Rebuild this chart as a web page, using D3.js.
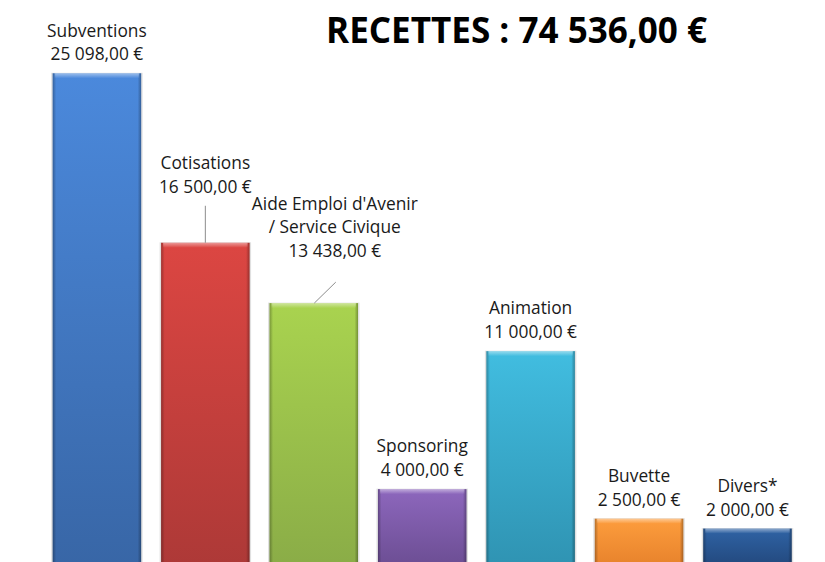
<!DOCTYPE html>
<html>
<head>
<meta charset="utf-8">
<script src="https://cdn.jsdelivr.net/npm/d3@7"></script>
<style>
html,body{margin:0;padding:0;background:#fff;}
svg{display:block;}
text{font-family:"Open Sans","Lato","Liberation Sans",sans-serif;fill:#1a1a1a;}
</style>
</head>
<body>
<svg id="chart" width="825" height="562"></svg>
<script>
const title = "RECETTES : 74 536,00 €";
const categories = ["Subventions","Cotisations","Aide Emploi d'Avenir / Service Civique","Sponsoring","Animation","Buvette","Divers*"];
const labelLines = [
  ["Subventions"],
  ["Cotisations"],
  ["Aide Emploi d'Avenir","/ Service Civique"],
  ["Sponsoring"],
  ["Animation"],
  ["Buvette"],
  ["Divers*"]
];
const values = [25098, 16500, 13438, 4000, 11000, 2500, 2000];
const topColors = ["#4b89dc","#dc4642","#a9d34f","#8d67bd","#41bde0","#fd9d3d","#2f63a5"];
const bottomColors = ["#3866a6","#ad3937","#8aac47","#6b4d92","#2f93b2","#e6812b","#22477b"];

const svg = d3.select("#chart");

const x = d3.scaleBand().domain(categories).range([42.7, 801.7]).paddingInner(0.184).paddingOuter(0.092);
const y = d3.scaleLinear().domain([0, 25098]).range([568, 73.3]);

const fmt = v => {
  const s = d3.format(",.2f")(v);
  return s.replace(/,/g, "\u00a0").replace(".", ",") + "\u00a0€";
};

const defs = svg.append("defs");
categories.forEach((c, i) => {
  const g = defs.append("linearGradient").attr("id", "g" + i).attr("x1", 0).attr("y1", 0).attr("x2", 0).attr("y2", 1);
  g.append("stop").attr("offset", "0%").attr("stop-color", topColors[i]);
  g.append("stop").attr("offset", "100%").attr("stop-color", bottomColors[i]);
});
const side = defs.append("linearGradient").attr("id", "side").attr("x1", 0).attr("y1", 0).attr("x2", 1).attr("y2", 0);
side.append("stop").attr("offset", "0%").attr("stop-color", "#000").attr("stop-opacity", 0.28);
side.append("stop").attr("offset", "4%").attr("stop-color", "#000").attr("stop-opacity", 0.0);
side.append("stop").attr("offset", "96%").attr("stop-color", "#000").attr("stop-opacity", 0.0);
side.append("stop").attr("offset", "100%").attr("stop-color", "#000").attr("stop-opacity", 0.3);
const topg = defs.append("linearGradient").attr("id", "topg").attr("x1", 0).attr("y1", 0).attr("x2", 0).attr("y2", 1);
topg.append("stop").attr("offset", "0%").attr("stop-color", "#fff").attr("stop-opacity", 0.45);
topg.append("stop").attr("offset", "100%").attr("stop-color", "#fff").attr("stop-opacity", 0.0);

svg.append("g").selectAll("rect").data(categories).join("rect")
  .attr("x", d => x(d) - 1.5)
  .attr("y", (d, i) => y(values[i]) - 0.5)
  .attr("width", x.bandwidth() + 3)
  .attr("height", (d, i) => y(0) - y(values[i]) + 1)
  .attr("fill", "#000").attr("opacity", 0.12);

const bars = svg.append("g");
bars.selectAll("rect.bar").data(categories).join("rect").attr("class", "bar")
  .attr("x", d => x(d))
  .attr("y", (d, i) => y(values[i]))
  .attr("width", x.bandwidth())
  .attr("height", (d, i) => y(0) - y(values[i]))
  .attr("fill", (d, i) => `url(#g${i})`);
bars.selectAll("rect.side").data(categories).join("rect").attr("class", "side")
  .attr("x", d => x(d))
  .attr("y", (d, i) => y(values[i]))
  .attr("width", x.bandwidth())
  .attr("height", (d, i) => y(0) - y(values[i]))
  .attr("fill", "url(#side)");
bars.selectAll("rect.top").data(categories).join("rect").attr("class", "top")
  .attr("x", d => x(d) + 2)
  .attr("y", (d, i) => y(values[i]))
  .attr("width", x.bandwidth() - 4)
  .attr("height", 5)
  .attr("fill", "url(#topg)");

const lineH = 23.8;
const labelShift = {1: {dx: 0, lift: 37}, 2: {dx: 21, lift: 33}};
const labG = svg.append("g");
const probe = labG.append("text").attr("font-size", 18).text("Aide Emploi d'Avenir");
const fontSize = 18 * 166 / probe.node().getComputedTextLength();
probe.remove();

categories.forEach((c, i) => {
  const lines = labelLines[i].concat([fmt(values[i])]);
  const sh = labelShift[i] || {dx: 0, lift: 0};
  const cx = x(c) + x.bandwidth() / 2 + sh.dx;
  const lastBase = y(values[i]) - 13 - sh.lift;
  const t = labG.append("text").attr("text-anchor", "middle").attr("font-size", fontSize);
  lines.forEach((l, k) => {
    t.append("tspan").attr("x", cx).attr("y", lastBase - (lines.length - 1 - k) * lineH).text(l);
  });
  if (labelShift[i]) {
    const bx = x(c) + x.bandwidth() / 2;
    const by = y(values[i]);
    if (i === 1) {
      labG.append("line").attr("x1", bx).attr("y1", by).attr("x2", bx).attr("y2", by - 37)
        .attr("stroke", "#8c8c8c").attr("stroke-width", 1);
    } else {
      labG.append("line").attr("x1", bx + 0.5).attr("y1", by).attr("x2", bx + 22).attr("y2", by - 21)
        .attr("stroke", "#8c8c8c").attr("stroke-width", 1);
    }
  }
});

const tt = svg.append("text").attr("x", 516.5).attr("y", 43).attr("text-anchor", "middle")
  .attr("font-weight", "bold").attr("font-size", 32).style("fill", "#000").text(title);
const tw = tt.node().getComputedTextLength();
tt.attr("font-size", 32 * 381 / tw);
</script>
</body>
</html>
